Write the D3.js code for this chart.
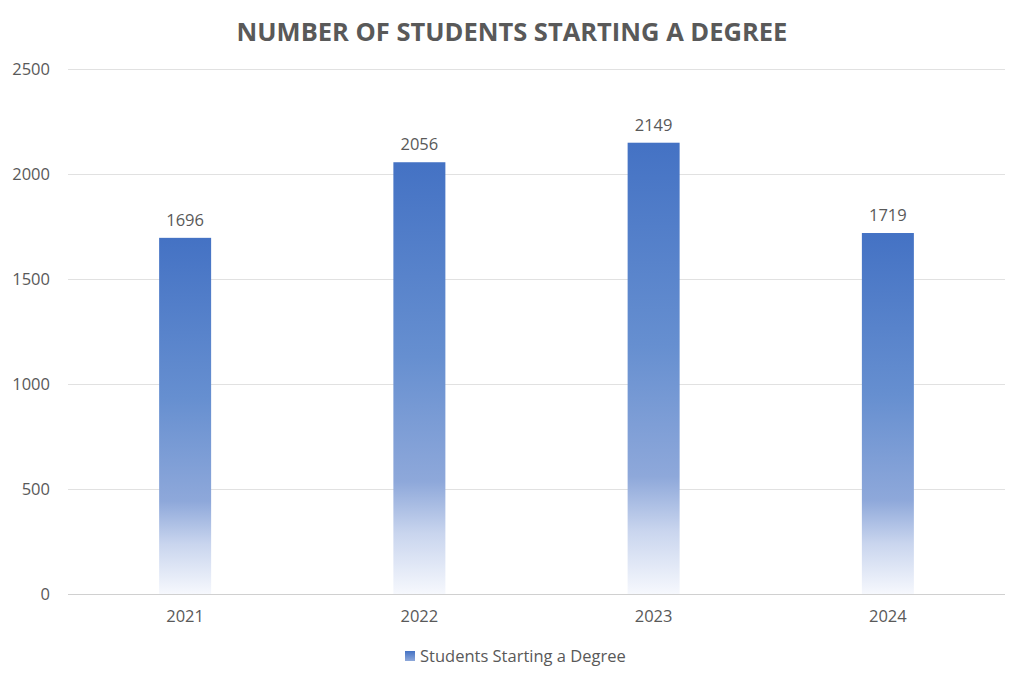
<!DOCTYPE html>
<html>
<head>
<meta charset="utf-8">
<script src="https://cdn.jsdelivr.net/npm/d3@7"></script>
<style>
  body { margin: 0; background: #fff; }
  text { font-family: "Open Sans", "Noto Sans", sans-serif; fill: #595959; }
</style>
</head>
<body>
<div id="chart"></div>
<script>
// Chart data
var years = ["2021", "2022", "2023", "2024"]
var students = [1696, 2056, 2149, 1719]
var yTicks = [0, 500, 1000, 1500, 2000, 2500]
var seriesName = "Students Starting a Degree"
var chartTitle = "NUMBER OF STUDENTS STARTING A DEGREE"

var data = years.map((y, i) => ({ year: y, value: students[i] }))

let dimensions = {
  width: 1024,
  height: 682,
  margin: { top: 69, right: 19, bottom: 88, left: 68 },
}
dimensions.boundedWidth = dimensions.width - dimensions.margin.left - dimensions.margin.right
dimensions.boundedHeight = dimensions.height - dimensions.margin.top - dimensions.margin.bottom

var svg = d3.select("#chart").append("svg")
  .attr("width", dimensions.width)
  .attr("height", dimensions.height)

// gradient for the bars
var defs = svg.append("defs")
var grad = defs.append("linearGradient")
  .attr("id", "barGrad")
  .attr("x1", 0).attr("y1", 0).attr("x2", 0).attr("y2", 1)
grad.append("stop").attr("offset", "0%").attr("stop-color", "#4472c4")
grad.append("stop").attr("offset", "45%").attr("stop-color", "#668fd0")
grad.append("stop").attr("offset", "74%").attr("stop-color", "#8ea8da")
grad.append("stop").attr("offset", "86%").attr("stop-color", "#c9d5ee")
grad.append("stop").attr("offset", "100%").attr("stop-color", "#f6f8fd")

var legGrad = defs.append("linearGradient")
  .attr("id", "legGrad")
  .attr("x1", 0).attr("y1", 0).attr("x2", 0).attr("y2", 1)
legGrad.append("stop").attr("offset", "0%").attr("stop-color", "#4472c4")
legGrad.append("stop").attr("offset", "100%").attr("stop-color", "#8ea8da")

var bounds = svg.append("g")
  .attr("transform", `translate(${dimensions.margin.left},${dimensions.margin.top})`)

var xScale = d3.scaleBand()
  .domain(years)
  .range([0, dimensions.boundedWidth])

var yScale = d3.scaleLinear()
  .domain([0, 2500])
  .range([dimensions.boundedHeight, 0])

// gridlines
bounds.append("g")
  .selectAll("line")
  .data(yTicks)
  .enter()
  .append("line")
  .attr("x1", 0)
  .attr("x2", dimensions.boundedWidth)
  .attr("y1", d => yScale(d))
  .attr("y2", d => yScale(d))
  .attr("stroke", d => d === 0 ? "#d0d0d0" : "#e1e1e1")
  .attr("stroke-width", 1)
  .attr("shape-rendering", "crispEdges")

// y axis labels
var yAxis = bounds.append("g")
  .call(d3.axisLeft(yScale).tickValues(yTicks).tickFormat(d3.format("d")).tickSize(0).tickPadding(18))
yAxis.select(".domain").remove()
yAxis.selectAll("text")
  .style("font-size", "16.5px")
  .style("font-family", "'Open Sans', sans-serif")
  .attr("fill", "#595959")

// x axis labels
var xAxis = bounds.append("g")
  .attr("transform", `translate(0,${dimensions.boundedHeight})`)
  .call(d3.axisBottom(xScale).tickSize(0).tickPadding(16))
xAxis.select(".domain").remove()
xAxis.selectAll("text")
  .style("font-size", "16.5px")
  .style("font-family", "'Open Sans', sans-serif")
  .attr("fill", "#595959")

var barWidth = xScale.bandwidth() * 0.222

bounds.selectAll(".bar")
  .data(data)
  .enter()
  .append("rect")
  .attr("class", "bar")
  .attr("x", d => xScale(d.year) + (xScale.bandwidth() - barWidth) / 2)
  .attr("y", d => yScale(d.value))
  .attr("width", barWidth)
  .attr("height", d => dimensions.boundedHeight - yScale(d.value))
  .attr("fill", "url(#barGrad)")

// value labels
bounds.selectAll(".label")
  .data(data)
  .enter()
  .append("text")
  .attr("class", "label")
  .attr("x", d => xScale(d.year) + xScale.bandwidth() / 2)
  .attr("y", d => yScale(d.value) - 12)
  .attr("text-anchor", "middle")
  .style("font-size", "16.5px")
  .text(d => d.value)

// title
svg.append("text")
  .attr("x", 512)
  .attr("y", 41)
  .attr("text-anchor", "middle")
  .style("font-size", "25.5px")
  .style("font-weight", "bold")
  .text(chartTitle)

// legend
var legend = svg.append("g")
  .attr("transform", "translate(405,656)")
legend.append("rect")
  .attr("x", 0).attr("y", -5)
  .attr("width", 10).attr("height", 10)
  .attr("fill", "url(#legGrad)")
legend.append("text")
  .attr("x", 15)
  .attr("y", 6)
  .style("font-size", "16.5px")
  .text(seriesName)
</script>
</body>
</html>
